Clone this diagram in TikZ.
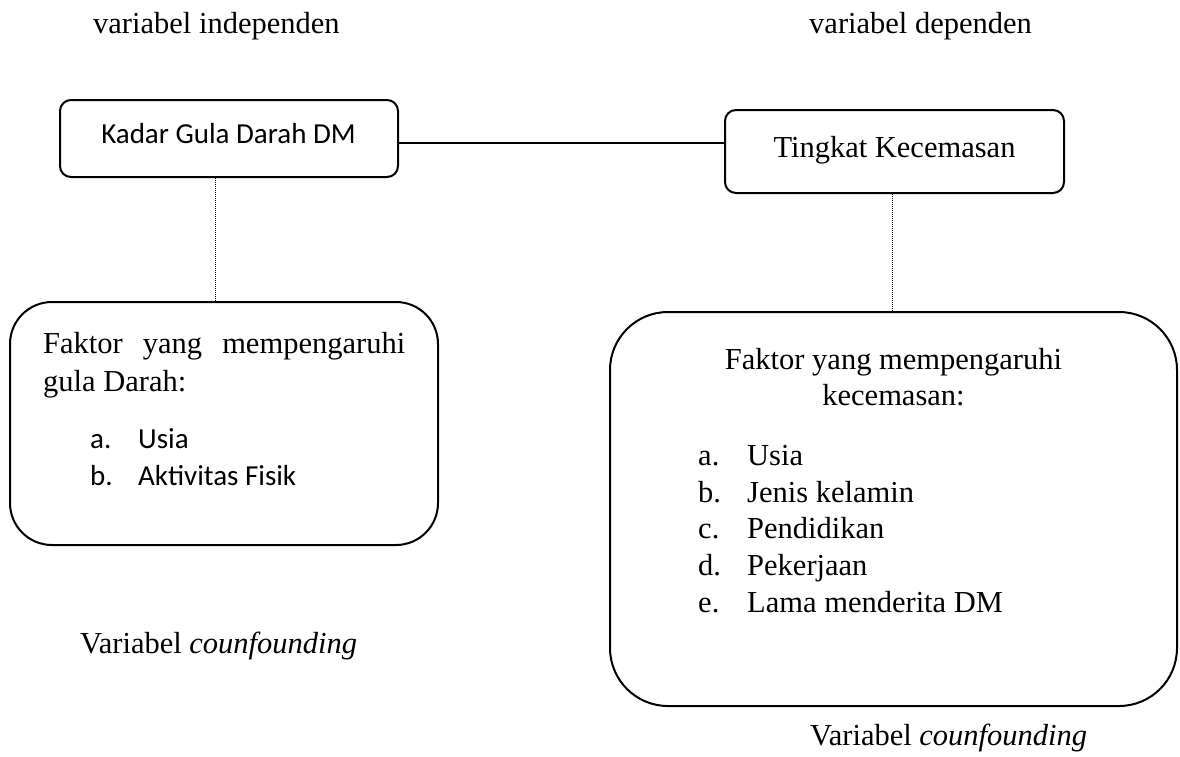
\documentclass[tikz,border=0pt]{standalone}
\usepackage{fontspec}
\setmainfont{Liberation Serif}
\newfontfamily\calib{Carlito}
\begin{document}
\begin{tikzpicture}[x=1pt,y=-1pt,
  box/.style={draw, line width=2pt, inner sep=0pt},
  serif/.style={font=\fontsize{30.5}{36.5}\selectfont, inner sep=0pt},
  sans/.style={font=\calib\fontsize{29}{36.5}\selectfont, inner sep=0pt},
  dotline/.style={line width=0.9pt, dash pattern=on 1pt off 1pt},
  link/.style={line width=1.2pt}]
\useasboundingbox (0,0) rectangle (1180,756);

% titles
\node[serif, anchor=base west] (ti) at (93,33) {variabel independen};
\node[serif, anchor=base west] (td) at (809,33) {variabel dependen};

% top boxes
\node[box, rounded corners=11pt, minimum width=338pt, minimum height=77pt] (b1) at (229,138.5) {};
\node[sans, anchor=base] (b1t) at (228.5,143) {Kadar Gula Darah DM};

\node[box, rounded corners=11pt, minimum width=339pt, minimum height=83pt] (b2) at (894.5,151.5) {};
\node[serif, anchor=base] (b2t) at (894.5,157) {Tingkat Kecemasan};

% left confounding box
\node[box, rounded corners=42pt, minimum width=428pt, minimum height=243pt] (b3) at (224,423.5) {};
\node[serif, anchor=base west] (b3a) at (43,353) {\makebox[362pt][s]{Faktor yang mempengaruhi}};
\node[serif, anchor=base west] (b3b) at (43,391) {gula Darah:};
\node[sans, anchor=base west] (b3c) at (90,448) {a.};
\node[sans, anchor=base west] (b3d) at (138,448) {Usia};
\node[sans, anchor=base west] (b3e) at (90,485) {b.};
\node[sans, anchor=base west] (b3f) at (138,485) {Aktivitas Fisik};

% right confounding box
\node[box, rounded corners=58pt, minimum width=567pt, minimum height=394pt] (b4) at (893.5,509) {};
\node[serif, anchor=base] (b4a) at (893.5,369) {Faktor yang mempengaruhi};
\node[serif, anchor=base] (b4b) at (893.5,405) {kecemasan:};
\node[serif, anchor=base west] (l1) at (698,465) {a.};
\node[serif, anchor=base west] (t1) at (747,465) {Usia};
\node[serif, anchor=base west] (l2) at (698,502) {b.};
\node[serif, anchor=base west] (t2) at (747,502) {Jenis kelamin};
\node[serif, anchor=base west] (l3) at (698,538) {c.};
\node[serif, anchor=base west] (t3) at (747,538) {Pendidikan};
\node[serif, anchor=base west] (l4) at (698,575) {d.};
\node[serif, anchor=base west] (t4) at (747,575) {Pekerjaan};
\node[serif, anchor=base west] (l5) at (698,612) {e.};
\node[serif, anchor=base west] (t5) at (747,612) {Lama menderita DM};

% confounding captions
\node[serif, anchor=base west] (c1) at (80,653) {Variabel \textit{counfounding}};
\node[serif, anchor=base west] (c2) at (810,745) {Variabel \textit{counfounding}};

% connectors
\coordinate (hy) at (0,143);
\draw[link] (b1.east |- hy) -- (b2.west |- hy);
\coordinate (dl) at (215,0);
\draw[dotline] (dl |- b1.south) -- (dl |- b3.north);
\coordinate (dr) at (892,0);
\draw[dotline] (dr |- b2.south) -- (dr |- b4.north);
\end{tikzpicture}
\end{document}
